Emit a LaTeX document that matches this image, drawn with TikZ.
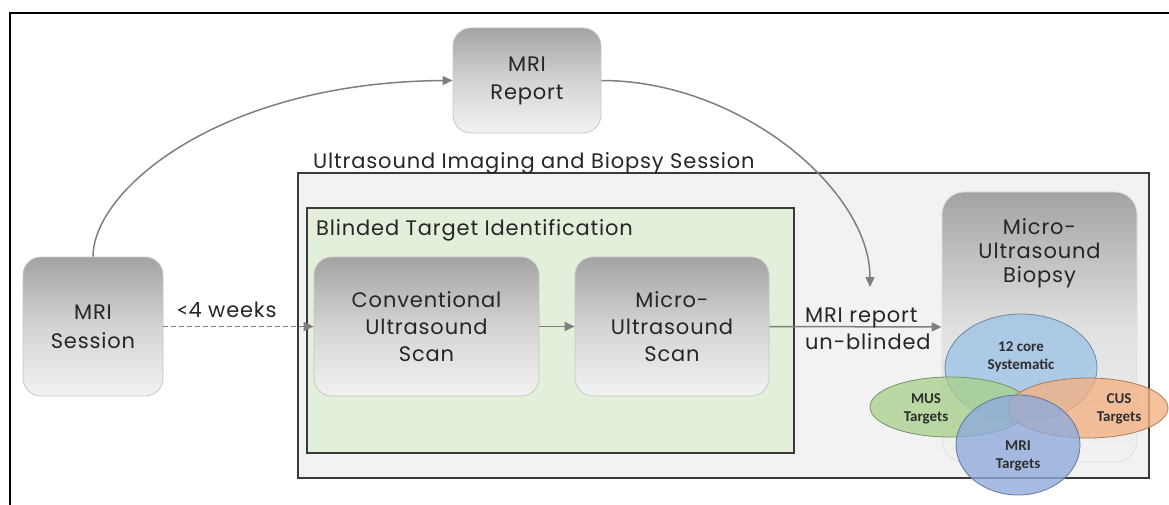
\documentclass[tikz,border=0pt]{standalone}
\usepackage{fontspec}
\setmainfont{Poppins}[LetterSpace=4]
\newfontfamily\venn{Carlito}
\newfontfamily\ltfont{Lato}[LetterSpace=4]
\usetikzlibrary{arrows.meta,shapes.geometric}
\definecolor{txt}{HTML}{262626}
\definecolor{arr}{HTML}{7F7F7F}
\definecolor{boxtop}{HTML}{A3A3A3}
\definecolor{boxbot}{HTML}{F2F2F2}
\definecolor{sessfill}{HTML}{F2F2F2}
\definecolor{greenfill}{HTML}{E2EFDA}
\definecolor{frame}{HTML}{3A3A3A}
\definecolor{vblue}{HTML}{9DC3E6}
\definecolor{vgreen}{HTML}{A9D18E}
\definecolor{vorange}{HTML}{F4B183}
\definecolor{vmri}{HTML}{8FAADC}
\tikzset{
  grbox/.style={rounded corners=18pt, draw=black!22, line width=0.8pt,
    top color=boxtop, bottom color=boxbot, middle color=black!17,
    align=center, text=txt, font=\fontsize{21}{27}\selectfont, inner sep=0pt},
  conn/.style={draw=arr, line width=1.5pt, -{Triangle[length=10pt,width=9pt]}},
  lbl/.style={text=txt, font=\fontsize{21}{27}\selectfont, inner sep=0pt},
  vel/.style={ellipse, fill opacity=0.78, line width=0.8pt, inner sep=0pt},
  vtx/.style={text=black!82, font=\venn\bfseries\fontsize{15}{18}\selectfont, align=center, inner sep=0pt}
}
\begin{document}
\begin{tikzpicture}[x=1pt,y=-1pt]
\useasboundingbox (0,0) rectangle (1169,505);
\fill[white] (0,0) rectangle (1169,505);
% outer frame
\draw[black, line width=1.2pt] (10,505) -- (10,13) -- (1169,13);
% session box
\draw[frame, fill=sessfill, line width=2pt] (298,173) rectangle (1149,478);
\node[lbl, anchor=base west] (sesslbl) at (313,168) {Ultrasound Imaging and Biopsy Session};
% green box
\draw[frame, fill=greenfill, line width=2pt] (307,208) rectangle (794,453);
\node[lbl, anchor=base west] (blindlbl) at (316,235) {Blinded Target Identification};
% nodes
\node[grbox, minimum width=140pt, minimum height=139pt] (sess) at (93,326.5) {MRI\\[2pt]Session};
\node[grbox, minimum width=148pt, minimum height=105pt] (rep) at (527,80.5) {MRI\\[1pt]Report};
\node[grbox, minimum width=225pt, minimum height=139pt] (conv) at (426.5,326.5) {Conventional\\Ultrasound\\Scan};
\node[grbox, minimum width=194pt, minimum height=139pt] (micro) at (672,326.5) {Micro-\\Ultrasound\\Scan};
\node[rounded corners=22pt, draw=black!12, line width=0.8pt, top color=boxtop, bottom color=boxbot, middle color=black!12,
  minimum width=195pt, minimum height=270pt, inner sep=0pt] (bio) at (1039.5,327) {};
\node[lbl, align=center, font=\fontsize{21}{24}\selectfont] (biotxt) at (1039.5,253) {Micro-\\Ultrasound\\Biopsy};
% connectors
\coordinate (down) at (870,287);
\draw[conn] (sess.north) .. controls (93,190) and (220,82) .. (rep.west);
\draw[conn] (rep.east) .. controls (740,80.5) and (870,190) .. (down);
\draw[draw=arr, line width=1.5pt, dashed, dash pattern=on 5pt off 3pt, -{Triangle[length=10pt,width=9pt]}] (sess.east) -- (conv.west);
\node[lbl, anchor=base] (weeks) at (226.5,317) {{\ltfont<}4 weeks};
\draw[conn] (conv.east) -- (micro.west);
\draw[conn] (micro.east) -- (bio.west);
\node[lbl, align=left, anchor=west] (unbl) at (805,329) {MRI report\\un-blinded};
% venn
\node[vel, fill=vblue, draw=vblue!70!black, minimum width=152pt, minimum height=108pt] (sys) at (1021,368) {};
\node[vel, fill=vgreen, draw=vgreen!70!black, minimum width=160pt, minimum height=60pt] (mus) at (950,407) {};
\node[vel, fill=vorange, draw=vorange!70!black, minimum width=160pt, minimum height=60pt] (cus) at (1088,408) {};
\node[vel, fill=vmri, draw=vmri!70!black, minimum width=124pt, minimum height=100pt] (mri) at (1018,445) {};
\node[vtx] (systxt) at (1021,357) {12 core\\Systematic};
\node[vtx] (mustxt) at (926,409) {MUS\\Targets};
\node[vtx] (custxt) at (1119,409) {CUS\\Targets};
\node[vtx] (mritxt) at (1018,456) {MRI\\Targets};
\end{tikzpicture}
\end{document}
